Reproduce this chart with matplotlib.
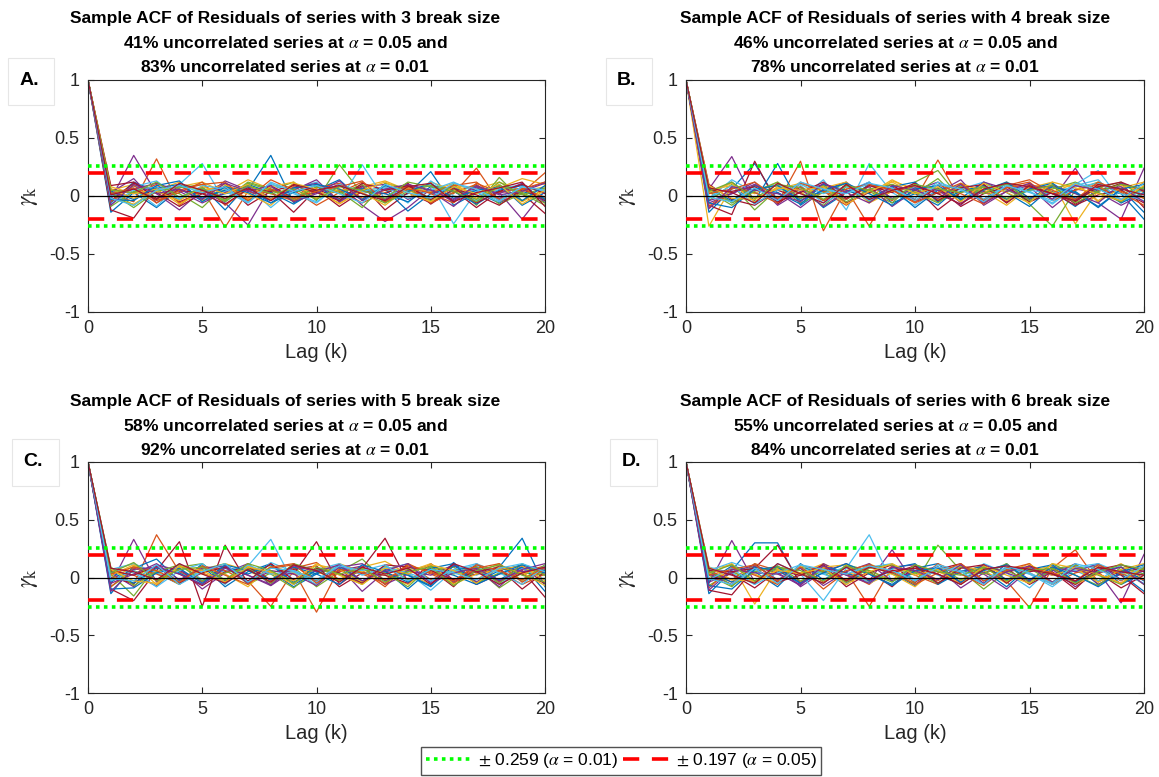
import numpy as np
import matplotlib
matplotlib.use("Agg")
import matplotlib.pyplot as plt
from matplotlib.patches import Rectangle
from matplotlib.lines import Line2D

plt.rcParams["font.family"] = ["Liberation Sans", "DejaVu Sans"]
plt.rcParams["mathtext.fontset"] = "stix"

# ─────────────────────────────────────────────
#  Data: sample ACF of residuals, lags 1..20 (in hundredths), lag 0 = 1
# ─────────────────────────────────────────────
LAGS = np.arange(0, 21)
CI_01 = 0.259
CI_05 = 0.197

BREAK_SIZES = [3, 4, 5, 6]
PCT_05 = [41, 46, 58, 55]
PCT_01 = [83, 78, 92, 84]
PANEL_TAGS = ["A.", "B.", "C.", "D."]

ACF_A = [
    [-14, 3, -10, 6, -4, 2, 5, 35, -6, 4, -3, 7, -5, 2, 21, -8, 3, -6, 4, -2],
    [2, -5, 32, -8, 6, -27, 4, -3, 8, -2, 5, -6, 3, 9, -4, 2, 24, -5, 3, 20],
    [5, 10, -4, 8, 12, 3, 14, 6, -2, 10, 4, 8, 13, 5, -3, 9, 6, 12, 4, 8],
    [-3, 35, 2, -12, 5, -6, -25, 8, -4, 3, 10, -8, -22, -10, 6, -5, 7, 3, -20, 5],
    [4, -8, 6, 2, -10, 9, -3, 5, 12, -4, 27, 2, -6, 8, -2, 10, -8, 16, -4, 6],
    [0, 6, -9, 10, 28, -5, 8, -10, 6, 12, -4, 27, -3, 5, 10, -24, 4, -2, 11, -5],
    [-12, -19, 8, -5, 3, 11, -8, 4, -14, 6, -2, 9, -12, 3, -6, 5, -10, 4, 2, -15],
    [-6, 12, 4, -3, 8, -12, 10, 3, -7, 5, 14, -4, 6, -13, 2, 8, -5, 10, -8, 3],
    [6, 2, 10, -6, 4, 8, -2, 14, 5, -8, 3, 12, -4, 9, 2, -6, 11, 3, 7, -3],
    [-2, -7, 5, 12, -4, 6, 2, -8, 10, 3, -6, 4, 8, -2, 12, 5, -3, 7, 15, 10],
    [3, 15, -6, 9, -2, 13, 5, -4, 7, 11, -5, 6, -3, 10, 4, -9, 8, -2, 5, 12],
    [-9, 4, -2, 7, 10, -3, 12, 6, -5, 8, 4, -10, 11, 6, -4, 3, 9, -7, 2, -8],
    [1, 8, 13, -2, 6, 4, -6, 10, 3, -5, 9, 2, 7, -6, 13, 0, -4, 6, 10, 2],
    [-4, 11, 3, -9, 2, 7, -4, 9, -2, 6, -9, 4, 2, 11, -7, 6, 1, -8, 6, -4],
    [4, -3, 7, 10, -2, 5, 8, -6, 3, 9, -4, 6, 2, -5, 8, 4, -7, 5, 9, -3],
    [-5, 9, -4, 3, 12, -8, 6, 2, -4, 7, 11, -2, 5, 8, -6, 3, 10, -4, 6, 12],
    [8, 2, 6, -7, 4, 10, -3, 8, 12, -2, 6, 3, -8, 7, 4, 11, -2, 9, -5, 6],
    [-1, 6, 11, 4, -6, 3, 9, -2, 5, 14, -5, 8, 10, -3, 6, -4, 8, 2, 11, -6],
    [3, -10, 4, 8, 6, -4, 11, 5, -3, 8, 2, 10, -6, 4, 9, 6, -3, 12, 1, 7],
    [-7, 5, 8, -3, 9, 6, -5, 11, 2, -6, 10, 4, 8, -2, 5, 12, 3, -5, 8, 4],
    [9, 12, -2, 5, 2, -7, 6, 4, 9, 3, -4, 11, 5, 9, -3, 7, -6, 4, 10, 2],
    [-3, -4, 9, 13, -5, 8, 3, -6, 7, 10, 6, -3, 9, 4, 11, -2, 5, 8, -4, 9],
    [2, 7, -6, 5, 10, 12, -4, 6, -2, 4, 8, 13, -5, 6, 3, 9, 12, -3, 6, -1],
    [6, -2, 4, -4, 8, 2, 10, -3, 11, 6, -7, 5, 12, 3, -5, 8, 2, 10, -7, 5],
    [-8, 10, 2, 6, -3, 11, 4, 9, -5, 2, 13, -4, 6, 10, 5, -3, 9, 1, 4, 11],
    [5, 3, 12, -1, 7, -5, 9, 2, 6, -3, 8, 5, -2, 12, 8, 4, -5, 9, 3, -6],
    [-2, -8, 5, 9, 3, 8, -6, 12, 4, 9, 2, -6, 10, 3, -2, 11, 6, -4, 8, 5],
    [1, 6, -3, 11, 5, -2, 7, -4, 10, 5, 9, 2, -4, 8, 11, -5, 3, 7, 12, -9],
]

ACF_B = [
    [-14, 6, 28, -4, 8, -10, 3, 12, -6, 2, -8, 9, -3, 11, -5, 4, -9, 6, 2, -20],
    [3, -5, 10, -6, 30, -30, 6, -26, 9, -3, 31, -4, 8, -6, 10, 2, -5, 9, -3, 6],
    [-26, 8, 2, 12, -4, 10, 5, -2, 13, 6, -3, 11, 4, -8, 7, 12, -24, 5, 10, 3],
    [6, 34, -6, 3, -10, 5, 12, -4, 8, -5, 3, 14, -8, 4, 9, -3, 24, -6, -20, 24],
    [-4, 10, -12, 6, 3, -8, 8, 4, -6, 12, 22, -3, 6, 10, -7, -26, 5, 12, 2, 8],
    [8, -6, 5, 10, -3, 14, -12, 28, 3, -8, 6, 9, -5, 12, 4, -6, 10, 22, -4, 5],
    [-8, -16, 30, -7, 8, -4, 10, -5, 4, 8, -12, 3, 10, -5, 6, 9, -7, 4, 11, -10],
    [2, 12, -4, 28, -8, 6, -3, 10, 7, -10, 5, -2, 12, 3, -9, 8, 4, -10, 6, -14],
    [-10, 3, 8, -2, 12, 4, -8, 6, -4, 10, 2, 7, -6, 9, 14, 3, -2, 8, -5, 12],
    [5, 9, -2, 6, 11, -3, 9, 2, 14, 4, -5, 8, 3, 12, -2, 7, 10, -4, 9, 4],
    [-6, 2, 12, -8, 4, 10, -2, 8, -9, 5, 12, -6, 4, -3, 8, -10, 6, 3, -8, 2],
    [4, -8, 6, 9, -6, 3, 11, -5, 6, 2, 15, -4, 8, 5, -3, 10, -4, 7, 12, -2],
    [-2, 14, 3, -5, 9, -6, 4, 12, -3, 8, -2, 6, 12, -4, 5, 2, 9, 14, -6, 7],
    [10, -3, -8, 5, -2, 8, -6, 3, 10, -4, 7, -9, 2, 8, -5, 3, -8, 1, 5, -6],
    [6, -4, 9, 3, -7, 10, 5, -2, 8, 12, -5, 4, 9, -3, 6, 11, -2, 7, -6, 3],
    [-9, 7, 3, -6, 11, 4, -3, 9, 6, -5, 10, 2, -7, 8, 12, -4, 5, 10, 3, -8],
    [3, 11, -5, 8, 2, 7, 12, -6, 4, 9, -3, 10, 5, -4, 8, 3, 11, -5, 7, 12],
    [-4, 2, 10, -3, 6, -9, 4, 11, -2, 7, 5, -8, 12, 6, -3, 9, 2, -6, 11, 5],
    [8, -6, 4, 12, -2, 9, -5, 6, 10, 3, -6, 8, 2, 11, -4, 6, 12, 3, -5, 8],
    [-2, 9, -7, 5, 10, 2, 8, -4, 6, -2, 12, 5, -3, 9, 4, -7, 8, 11, 2, -4],
    [5, 4, 8, -5, 3, 12, -2, 9, 3, 11, -4, 7, 10, -6, 9, 2, -5, 8, 12, 4],
    [-6, -10, 6, 9, -4, 5, 11, 2, -8, 6, 9, -3, 5, 12, -2, 8, 3, -9, 6, 10],
    [2, 6, 12, -2, 8, -4, 6, 10, 5, -6, 3, 11, -4, 7, 10, 5, -3, 12, 4, -2],
    [9, -2, -3, 7, 5, 8, -7, 4, 12, 2, 8, -5, 11, 3, -6, 12, 7, 2, -4, 9],
    [-11, 8, 5, 2, -5, 11, 3, -6, 9, 5, -2, 10, -6, 4, 11, -3, 9, 5, 8, -5],
    [4, 12, -2, 10, 7, -3, 9, 5, -3, 10, 6, 3, 8, -2, 5, 9, -6, 4, 10, 6],
    [-1, -5, 7, -4, 12, 6, 2, 11, 7, -4, 10, 6, -5, 9, 3, -4, 11, 6, -3, 11],
    [7, 3, -6, 11, 2, -6, 10, -3, 5, 9, 2, -7, 6, 11, 8, 2, -4, 10, 6, 1],
]

ACF_C = [
    [-14, 10, 4, -6, 12, -3, 8, 5, -8, 3, 10, -4, 6, -10, 7, 2, -6, 9, 34, -8],
    [2, -6, 37, 5, -4, 10, -3, -25, 6, -30, 8, 3, -5, 12, -2, 6, 9, -4, 5, 10],
    [6, 12, -3, 9, 4, 12, 6, -4, 11, 5, -2, 9, 14, 3, -6, 10, 4, 12, -3, 6],
    [-6, 33, -4, 8, -10, 4, 12, -7, 6, -3, 9, -12, 5, 8, -4, 11, -6, 3, 9, -5],
    [3, -16, 10, -4, 7, 12, -6, 4, 9, -8, 5, 16, -3, 7, 10, -5, 8, -9, 4, 2],
    [8, 4, -8, 12, -2, 6, 10, 33, -5, 7, 12, -3, 8, 4, -11, 6, 2, 10, -4, 9],
    [-10, -20, 6, 31, -25, 28, -5, 9, 3, 31, -6, 8, 34, -4, 7, -8, 12, -3, 6, -17],
    [-4, 8, 16, -3, 10, -8, 5, 12, -6, 4, 8, -5, 10, 2, -7, 13, -4, 6, 11, -12],
    [5, 2, -7, 10, 4, -4, 12, -3, 8, 13, -2, 6, -8, 11, 4, -3, 10, 5, -6, 3],
    [-2, 10, 5, -6, 9, 3, -8, 10, 4, -3, 12, 5, 2, -6, 9, 6, -2, 11, 3, 8],
    [4, -8, 11, 6, -3, 10, 2, -6, 12, -4, 6, 10, -6, 3, 11, -4, 7, -8, 10, 4],
    [-8, 6, -2, 9, 12, -5, 8, 3, -9, 7, 3, -6, 10, -2, 6, 9, -5, 4, -2, 11],
    [7, 12, 4, -4, 6, 9, -4, 13, 5, -6, 9, 3, 7, 12, -3, 5, 11, -6, 8, -2],
    [0, -5, 9, 3, -7, 5, 9, -2, 7, 10, -8, 4, 2, -5, 12, -2, 3, 8, -10, 5],
    [5, -5, 8, 4, -6, 9, 3, 11, -4, 6, 10, -3, 7, 2, -8, 10, 5, -2, 9, 4],
    [-8, 8, 3, -5, 10, 6, -4, 8, 11, -3, 5, 9, -6, 12, 3, -5, 8, 12, -4, 7],
    [2, 11, -6, 9, 3, -2, 10, 4, -6, 11, 7, -4, 9, 5, 12, -6, 3, 7, 10, -3],
    [-5, 3, 12, -2, 8, 10, -5, 6, 3, -7, 9, 12, -3, 6, 2, 11, -4, 10, 5, 8],
    [9, -7, 5, 11, -3, 4, 8, -5, 12, 6, -3, 7, 4, -8, 10, 3, 9, -5, 12, 2],
    [-3, 6, -8, 6, 12, -6, 11, 3, 5, -4, 12, 2, 9, 4, -3, 7, 12, 4, -6, 10],
    [6, 2, 10, -5, 4, 9, -3, 12, -2, 8, 4, -5, 11, 9, 6, -2, 5, 9, 3, -5],
    [-10, -9, 4, 8, -5, 11, 6, -2, 9, 3, -6, 11, 5, -4, 8, 12, -6, 3, 11, 6],
    [3, 9, 6, -4, 10, 2, -6, 9, 12, -5, 7, 4, -2, 10, 5, -3, 11, 6, -2, 9],
    [7, -3, -5, 10, 6, -4, 9, 5, -3, 12, 2, -6, 8, 3, 11, 6, -5, 9, 4, -7],
    [-12, 7, 9, 3, -6, 8, 2, -7, 10, 5, 11, -3, 6, 12, -5, 4, 8, -3, 7, 12],
    [4, 13, -3, 7, 9, -2, 12, 6, -5, 9, 3, 8, -4, 5, 9, -7, 6, 11, 2, -4],
    [-1, -3, 11, -6, 5, 12, -4, 8, 6, -2, 10, 6, 11, -3, 7, 4, -2, 8, 12, 5],
    [8, 5, -2, 12, 3, -5, 7, -4, 11, 6, -4, 9, 3, 8, -6, 12, 5, -6, 4, 9],
]

ACF_D = [
    [-14, 6, 30, 30, -6, 8, -3, 11, 4, -7, 9, 3, -5, 12, -4, 6, 10, -6, 3, -12],
    [4, -4, 10, 3, 8, -10, 5, -25, 9, 2, -6, 10, 4, -3, -26, 8, 24, -4, 6, 2],
    [7, 11, -23, 8, 4, 12, 3, 6, -2, 11, 5, -3, 9, 4, 12, -5, 8, 10, 3, 7],
    [-5, 32, -4, 10, -8, 5, 12, -3, 24, -6, 8, -9, 4, 11, -2, 7, -8, 5, -22, 20],
    [2, -8, 12, -3, 9, 4, -6, 10, 3, -5, 28, 6, -10, 5, 8, -4, 11, -3, 7, -6],
    [9, 4, -6, 12, 3, -20, 8, 37, -4, 10, 2, -6, 12, 4, -9, 10, 6, -3, 11, 5],
    [-11, -15, 8, 28, -5, 10, -8, 4, 11, -4, 7, 12, -3, 8, -6, 5, -10, 9, 2, -14],
    [-3, 10, 5, -8, 12, -2, 9, 3, -6, 8, 12, -5, 6, -8, 10, 3, -4, 12, -6, 4],
    [5, -2, 12, 6, -4, 9, 4, -6, 10, 5, -3, 11, -2, 7, 12, -6, 4, 8, -3, 10],
    [-2, 8, 3, -5, 10, 6, -2, 12, 3, -8, 9, 4, 11, -4, 6, 10, -6, 3, 12, -2],
    [3, -6, 10, 4, -7, 12, 2, -4, 9, 11, -5, 6, 3, -10, 7, 2, 12, -6, 4, 9],
    [-7, 5, -3, 9, 4, -5, 11, 6, -3, 4, 9, -2, 8, 6, -3, 12, 2, -7, 9, 3],
    [6, 13, 6, -2, 8, 3, -5, 9, 12, -2, 6, 10, -6, 9, 3, -8, 7, 11, -2, 6],
    [-1, 3, -9, 6, 2, 8, -4, 5, -8, 10, 3, -6, 11, -2, 5, 8, -3, 4, -9, 2],
    [5, -4, 9, 6, -5, 10, 4, -3, 8, 12, -6, 5, 10, -2, 7, 11, -4, 6, 9, -3],
    [-9, 9, 2, -6, 11, 5, -2, 10, 6, -4, 12, 3, -7, 9, 4, -6, 10, 3, -5, 8],
    [3, 12, -5, 7, 3, 9, 11, -5, 4, 8, -2, 10, 6, -5, 11, 2, 8, -4, 7, 12],
    [-4, 4, 11, -2, 8, -7, 5, 12, -3, 6, 9, -5, 11, 4, -3, 9, 5, 12, -2, 6],
    [7, -7, 5, 10, -3, 6, -4, 8, 11, 4, -5, 9, 3, 12, -5, 7, 11, 2, -6, 9],
    [-2, 8, -6, 4, 11, 3, 9, -5, 7, -3, 11, 6, -2, 8, 3, -6, 9, 12, 4, -5],
    [6, 5, 8, -4, 2, 11, -3, 9, 4, 10, -5, 8, 11, -5, 10, 3, -6, 7, 11, 5],
    [-7, -10, 7, 9, -5, 4, 12, 3, -7, 6, 8, -4, 6, 11, -2, 9, 2, -8, 5, 11],
    [2, 7, 11, -3, 9, -4, 6, 11, 5, -6, 4, 12, -3, 6, 9, 4, -3, 11, 3, -2],
    [9, -2, -3, 6, 4, 8, -6, 5, 12, 2, 7, -6, 10, 2, -5, 12, 8, 3, -5, 10],
    [-11, 7, 4, 3, -6, 10, 2, -5, 9, 6, -2, 11, -5, 5, 10, -4, 8, 4, 9, -6],
    [4, 11, -3, 9, 6, -3, 10, 4, -4, 11, 5, 2, 9, -3, 6, 8, -5, 5, 11, 7],
    [-1, -6, 8, -5, 11, 7, 3, 10, 6, -3, 9, 5, -6, 10, 4, -5, 12, 7, -2, 10],
    [8, 2, -5, 12, 3, -5, 9, -2, 6, 8, 3, -6, 7, 10, 7, 3, -3, 9, 5, 2],
]

ALL_ACF = [ACF_A, ACF_B, ACF_C, ACF_D]

# MATLAB default line colour order
COLORS = ["#0072BD", "#D95319", "#EDB120", "#7E2F8E",
          "#77AC30", "#4DBEEE", "#A2142F"]
INK = "#262626"
DASH = (0, (4.5, 3.5))
DOTS = (0, (1, 1.2))

# ─────────────────────────────────────────────
#  Layout (pixel boxes -> figure fractions)
# ─────────────────────────────────────────────
W, H = 1159, 777
fig = plt.figure(figsize=(W / 100, H / 100), dpi=100, facecolor="white")

# left, top, right, bottom in pixels
AX_BOX = [(88, 80, 545, 312), (686, 80, 1144, 312),
          (88, 462, 545, 693), (686, 462, 1144, 693)]
TITLE_X = [285, 895, 285, 895]
TITLE_Y = [18, 18, 401, 401]
TAG_BOX = [(8, 58, 46, 47), (606, 58, 46, 47),
           (12, 439, 47, 47), (610, 439, 47, 47)]


def px(x, y):
    return x / W, 1 - y / H


for i, acf in enumerate(ALL_ACF):
    l, t, r, b = AX_BOX[i]
    ax = fig.add_axes([l / W, 1 - b / H, (r - l) / W, (b - t) / H])

    for j, row in enumerate(acf):
        vals = np.concatenate([[1.0], np.array(row) / 100.0])
        ax.plot(LAGS, vals, color=COLORS[j % len(COLORS)], lw=0.9, zorder=2)

    ax.axhline(0, color="black", lw=0.9, zorder=3)
    for s in (1, -1):
        ax.axhline(s * CI_05, color="red", lw=2.6, ls=DASH, zorder=4)
        ax.axhline(s * CI_01, color="#00ff00", lw=2.6, ls=DOTS, zorder=4)

    ax.set_xlim(0, 20)
    ax.set_ylim(-1, 1)
    ax.set_xticks([0, 5, 10, 15, 20])
    ax.set_yticks([-1, -0.5, 0, 0.5, 1])
    ax.set_yticklabels(["-1", "-0.5", "0", "0.5", "1"])
    ax.tick_params(direction="in", length=4, width=0.8, top=True,
                   right=True, labelsize=13, colors=INK, pad=6)
    for sp in ax.spines.values():
        sp.set_color(INK)
        sp.set_linewidth(0.8)

    ax.set_xlabel("Lag (k)", fontsize=14.5, color=INK, labelpad=4)
    ax.set_ylabel(r"$\gamma_{\mathrm{k}}$", fontsize=17, color=INK)
    ax.yaxis.set_label_coords(-0.105, 0.5)

    # three-line bold title
    lines = [
        f"Sample ACF of Residuals of series with {BREAK_SIZES[i]} break size",
        f"{PCT_05[i]}% uncorrelated series at $\\alpha$ = 0.05 and",
        f"{PCT_01[i]}% uncorrelated series at $\\alpha$ = 0.01",
    ]
    for k, txt in enumerate(lines):
        fx, fy = px(TITLE_X[i], TITLE_Y[i] + 24.5 * k)
        fig.text(fx, fy, txt, ha="center", va="center", fontsize=12.5,
                 fontweight="bold", color="black")

    # panel tag in a light box
    bx, by, bw, bh = TAG_BOX[i]
    fig.add_artist(Rectangle((bx / W, 1 - (by + bh) / H), bw / W, bh / H,
                             transform=fig.transFigure, facecolor="white",
                             edgecolor="#e6e6e6", lw=0.8))
    cx, cy = px(bx + bw / 2 - 2, by + bh / 2 - 1)
    fig.text(cx, cy, PANEL_TAGS[i], ha="center", va="center",
             fontsize=14, fontweight="bold", color="black")

# ─────────────────────────────────────────────
#  Shared legend
# ─────────────────────────────────────────────
handles = [
    Line2D([], [], color="#00ff00", lw=2.6, ls=DOTS),
    Line2D([], [], color="red", lw=2.6, ls=DASH),
]
labels = [r"$\pm$ 0.259 ($\alpha$ = 0.01)", r"$\pm$ 0.197 ($\alpha$ = 0.05)"]
fig.legend(handles, labels, loc="center", bbox_to_anchor=px(621, 761),
           ncol=2, fontsize=12.5, frameon=True, fancybox=False,
           edgecolor=INK, handlelength=2.6, handletextpad=0.4,
           columnspacing=0.3, borderpad=0.25, borderaxespad=0)

fig.savefig("out.png", dpi=100, facecolor="white")
